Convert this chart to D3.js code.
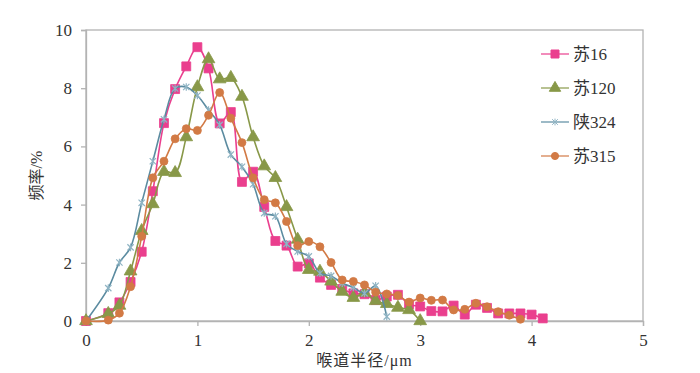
<!DOCTYPE html>
<html>
<head>
<meta charset="utf-8">
<script src="https://cdn.jsdelivr.net/npm/d3@7"></script>
<style>
body { margin: 0; background: #fff; }
text { font-family: "Liberation Serif", "Noto Sans CJK SC", serif; fill: #333; }
</style>
</head>
<body>
<svg width="700" height="373"></svg>
<script>
// x values (throat radius, um)
var xs = [0, 0.2, 0.3, 0.4, 0.5, 0.6, 0.7, 0.8, 0.9, 1.0, 1.1, 1.2, 1.3, 1.4, 1.5, 1.6, 1.7, 1.8, 1.9, 2.0,
          2.1, 2.2, 2.3, 2.4, 2.5, 2.6, 2.7, 2.8, 2.9, 3.0, 3.1, 3.2, 3.3, 3.4, 3.5, 3.6, 3.7, 3.8, 3.9, 4.0, 4.1];

var su16 = [0, 0.27, 0.64, 1.34, 2.38, 4.46, 6.8, 7.97, 8.75, 9.41, 8.68, 6.79, 7.18, 4.78, 5.13, 3.92, 2.75, 2.59, 1.87, 1.98,
            1.49, 1.24, 1.10, 0.95, 0.92, 0.72, 0.84, 0.90, 0.57, 0.50, 0.34, 0.33, 0.53, 0.22, 0.56, 0.45, 0.26, 0.26, 0.26, 0.22, 0.09];
var su120 = [0, 0.25, 0.53, 1.71, 3.1, 4.02, 5.13, 5.09, 6.32, 8.04, 9.0, 8.31, 8.36, 7.71, 6.32, 5.32, 4.92, 3.92, 2.8, 1.76,
             1.70, 1.36, 1.01, 0.80, 0.98, 0.69, 0.59, 0.46, 0.38, 0];
var shaan324 = [0, 1.13, 2.01, 2.53, 4.06, 5.49, 6.93, 7.99, 8.04, 7.75, 7.25, 6.74, 5.72, 5.3, 4.7, 3.71, 3.6, 2.65, 2.39, 2.22,
                1.64, 1.55, 1.3, 1.15, 0.95, 1.21, 0.15];
var su315 = [0, 0.03, 0.27, 1.18, 2.91, 4.92, 5.49, 6.26, 6.61, 6.55, 7.07, 7.85, 6.97, 6.13, 4.92, 4.17, 4.06, 3.42, 2.59, 2.73,
             2.55, 2.01, 1.41, 1.36, 1.24, 0.99, 0.93, 0.88, 0.65, 0.79, 0.71, 0.72, 0.38, 0.4, 0.61, 0.49, 0.32, 0.2, 0.06];

var seriesNames = ["苏16", "苏120", "陕324", "苏315"];
var seriesValues = [su16, su120, shaan324, su315];
var colors = ["#ea3f8e", "#889848", "#5b8ba0", "#d27a45"];

// Excel-like star marker: an x with a vertical bar
var symbolStar = {
  draw: function(context, size) {
    var r = Math.sqrt(size) / 2;
    context.moveTo(-r, -r); context.lineTo(r, r);
    context.moveTo(r, -r); context.lineTo(-r, r);
    context.moveTo(0, -r * 1.2); context.lineTo(0, r * 1.2);
  }
};
var symbols = [d3.symbolSquare, d3.symbolTriangle, symbolStar, d3.symbolCircle];
var symbolSizes = [80, 70, 40, 50];

var xTicks = [0, 1, 2, 3, 4, 5];
var yTicks = [0, 2, 4, 6, 8, 10];

var svg = d3.select("svg"),
    margin = {top: 30, right: 57, bottom: 52, left: 86},
    width = +svg.attr("width") - margin.left - margin.right,
    height = +svg.attr("height") - margin.top - margin.bottom,
    g = svg.append("g").attr("transform", "translate(" + margin.left + "," + margin.top + ")");

var x = d3.scaleLinear().domain([0, 5]).range([0, width]);
var y = d3.scaleLinear().domain([0, 10]).range([height, 0]);

var axisColor = "#b3b3b3";

// frame
g.append("rect")
  .attr("width", width)
  .attr("height", height)
  .attr("fill", "none")
  .attr("stroke", axisColor)
  .attr("stroke-width", 1.3);

var xAxis = g.append("g")
  .attr("transform", "translate(0," + height + ")")
  .call(d3.axisBottom(x).tickValues(xTicks).tickSize(5).tickPadding(8).tickFormat(d3.format("d")));

var yAxis = g.append("g")
  .call(d3.axisLeft(y).tickValues(yTicks).tickSize(5).tickPadding(9).tickFormat(d3.format("d")));

[xAxis, yAxis].forEach(function(a) {
  a.attr("font-family", "'Liberation Serif', serif").attr("font-size", 17);
  a.select(".domain").attr("stroke", axisColor).attr("stroke-width", 1.3);
  a.selectAll(".tick line").attr("stroke", axisColor).attr("stroke-width", 1.3);
  a.selectAll(".tick text").attr("fill", "#333");
});

g.append("text")
  .attr("x", width / 2)
  .attr("y", height + 45)
  .attr("text-anchor", "middle")
  .style("font-size", "16px")
  .style("letter-spacing", "1px")
  .text("喉道半径/μm");

g.append("text")
  .attr("transform", "translate(" + (-44) + "," + (height / 2) + ") rotate(-90)")
  .attr("text-anchor", "middle")
  .style("font-size", "16px")
  .text("频率/%");

var line = d3.line()
  .x(function(d) { return x(d[0]); })
  .y(function(d) { return y(d[1]); })
  .curve(d3.curveCatmullRom.alpha(0.5));

seriesValues.forEach(function(vals, i) {
  var pts = vals.map(function(v, j) { return [xs[j], v]; });
  var s = g.append("g");
  s.append("path")
    .datum(pts)
    .attr("fill", "none")
    .attr("stroke", colors[i])
    .attr("stroke-width", 1.6)
    .attr("d", line);
  s.selectAll(".pt")
    .data(pts)
    .enter().append("path")
    .attr("transform", function(d) { return "translate(" + x(d[0]) + "," + y(d[1]) + ")"; })
    .attr("d", d3.symbol().type(symbols[i]).size(symbolSizes[i]))
    .attr("fill", i == 2 ? "none" : colors[i])
    .attr("stroke", i == 2 ? "#8fb4c4" : colors[i])
    .attr("stroke-width", i == 2 ? 1.2 : 0.8);
});

// legend
var legend = svg.append("g").attr("transform", "translate(541,54)");
seriesNames.forEach(function(name, i) {
  var row = legend.append("g").attr("transform", "translate(0," + (i * 34) + ")");
  row.append("line")
    .attr("x1", 0).attr("x2", 28)
    .attr("stroke", colors[i]).attr("stroke-opacity", 0.75).attr("stroke-width", 1.6);
  row.append("path")
    .attr("transform", "translate(14,0)")
    .attr("d", d3.symbol().type(symbols[i]).size(symbolSizes[i] * 0.8))
    .attr("fill", i == 2 ? "none" : colors[i])
    .attr("stroke", i == 2 ? "#8fb4c4" : colors[i])
    .attr("stroke-width", 1);
  row.append("text")
    .attr("x", 32)
    .attr("dy", "0.35em")
    .style("font-size", "17px")
    .text(name);
});
</script>
</body>
</html>
